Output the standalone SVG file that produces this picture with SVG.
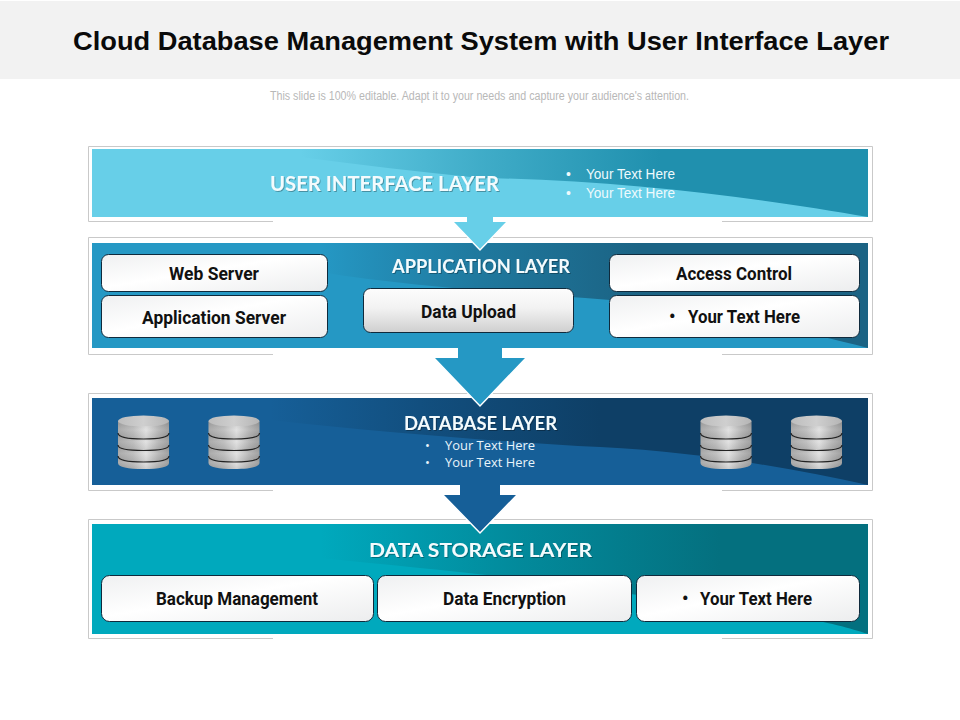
<svg xmlns="http://www.w3.org/2000/svg" width="960" height="720" viewBox="0 0 960 720">
<style>
.frame{fill:none;stroke:#c9c9c9;stroke-width:1}
.box{fill:url(#boxg);stroke:#0f2a3c;stroke-width:1}
.t{font-family:"Roboto","Liberation Sans",sans-serif;font-weight:700;font-size:18px;fill:#111}
.h{font-family:"Lato","Liberation Sans",sans-serif;font-weight:700;fill:#f4fbfd;filter:url(#ts)}
.b{font-family:"Liberation Sans",sans-serif;font-size:14px;fill:#eefafd}
.d{font-family:"Open Sans",sans-serif;font-size:13px;fill:#e8f4fb}
.o{fill:none;stroke:#fff;stroke-width:1.500}
</style>
<defs>
<linearGradient id="boxg" x1="0" y1="0" x2="1" y2="1"><stop offset="0" stop-color="#eff0f1"/><stop offset=".45" stop-color="#fff"/><stop offset="1" stop-color="#ecedee"/></linearGradient>
<linearGradient id="upg" x1="0" y1="0" x2="0" y2="1"><stop offset="0" stop-color="#fdfdfd"/><stop offset=".45" stop-color="#f2f2f2"/><stop offset="1" stop-color="#cfcfcf"/></linearGradient>
<linearGradient id="g1" gradientUnits="userSpaceOnUse" x1="300" y1="0" x2="660" y2="0"><stop offset="0" stop-color="#2090ae" stop-opacity="0"/><stop offset=".5" stop-color="#2090ae" stop-opacity=".55"/><stop offset="1" stop-color="#2090ae"/></linearGradient>
<linearGradient id="g2" gradientUnits="userSpaceOnUse" x1="320" y1="0" x2="640" y2="0"><stop offset="0" stop-color="#1b6384" stop-opacity="0"/><stop offset=".5" stop-color="#1b6384" stop-opacity=".6"/><stop offset="1" stop-color="#1b6384"/></linearGradient>
<linearGradient id="g3" gradientUnits="userSpaceOnUse" x1="270" y1="0" x2="600" y2="0"><stop offset="0" stop-color="#0e3f66" stop-opacity="0"/><stop offset=".5" stop-color="#0e3f66" stop-opacity=".55"/><stop offset="1" stop-color="#0e3f66"/></linearGradient>
<linearGradient id="g4" gradientUnits="userSpaceOnUse" x1="320" y1="0" x2="720" y2="0"><stop offset="0" stop-color="#04707f" stop-opacity="0"/><stop offset=".5" stop-color="#04707f" stop-opacity=".55"/><stop offset="1" stop-color="#04707f"/></linearGradient>
<linearGradient id="metal" x1="0" y1="0" x2="1" y2="0"><stop offset="0" stop-color="#a0a0a0"/><stop offset=".3" stop-color="#b8b8b8"/><stop offset=".55" stop-color="#dedede"/><stop offset=".8" stop-color="#b0b0b0"/><stop offset="1" stop-color="#959595"/></linearGradient>
<linearGradient id="top" x1="0" y1="0" x2="1" y2="0"><stop offset="0" stop-color="#bdbdbd"/><stop offset=".5" stop-color="#cfcfcf"/><stop offset="1" stop-color="#b5b5b5"/></linearGradient>
<linearGradient id="metalv" x1="0" y1="0" x2="0" y2="1"><stop offset="0" stop-color="#555" stop-opacity=".2"/><stop offset=".5" stop-color="#fff" stop-opacity=".12"/><stop offset="1" stop-color="#555" stop-opacity=".12"/></linearGradient>
<filter id="ts" x="-5%" y="-30%" width="110%" height="160%"><feDropShadow dx="1" dy="1" stdDeviation=".6" flood-color="#000" flood-opacity=".3"/></filter>
<g id="cyl">
<path d="M0,6 V48 C0,52 10,54 25.500,54 C41,54 51,52 51,48 V6 Z" fill="url(#metal)"/>
<path d="M0,6 C0,10 10,12 25.500,12 C41,12 51,10 51,6 V18 C51,22 41,24 25.500,24 C10,24 0,22 0,18 Z" fill="url(#metalv)"/>
<path d="M0,18 C0,22 10,24 25.500,24 C41,24 51,22 51,18 V30 C51,34 41,35.500 25.500,35.500 C10,35.500 0,34 0,30 Z" fill="url(#metalv)"/>
<path d="M0,30 C0,34 10,35.500 25.500,35.500 C41,35.500 51,34 51,30 V41 C51,45 41,47 25.500,47 C10,47 0,45 0,41 Z" fill="url(#metalv)"/>
<path d="M0,41 C0,45 10,47 25.500,47 C41,47 51,45 51,41 V48 C51,52 41,54 25.500,54 C10,54 0,52 0,48 Z" fill="url(#metalv)"/>
<path d="M0,18 C0,22 10,24 25.500,24 C41,24 51,22 51,18 M0,30 C0,34 10,35.500 25.500,35.500 C41,35.500 51,34 51,30 M0,41 C0,45 10,47 25.500,47 C41,47 51,45 51,41" fill="none" stroke="#222" stroke-width="1.200"/>
<ellipse cx="25.500" cy="6" rx="25.500" ry="5.500" fill="url(#top)"/>
</g>
</defs>

<rect width="960" height="720" fill="#fff"/>
<g id="header">
<rect x="0" y="1" width="960" height="78" fill="#f2f2f2"/>
<text x="73" y="50" font-family="'Liberation Sans',sans-serif" font-weight="700" font-size="26" fill="#0a0a0a" textLength="816" lengthAdjust="spacingAndGlyphs">Cloud Database Management System with User Interface Layer</text>
<text x="270" y="100" font-family="'Liberation Sans',sans-serif" font-size="12" fill="#b8b8b8" textLength="419" lengthAdjust="spacingAndGlyphs">This slide is 100% editable. Adapt it to your needs and capture your audience's attention.</text>
</g>

<g id="user-interface-layer">
<path class="frame" d="M273,221.500 H88.500 V146.500 H872.500 V221.500 H722"/>
<rect x="92" y="149" width="776" height="68" fill="#67cfe8"/>
<path d="M300,149 H868 V217 C760,198 620,180 480,178 C420,172 360,165 300,157 Z" fill="url(#g1)"/>
<text class="h" x="270" y="191" font-size="20" textLength="229" lengthAdjust="spacingAndGlyphs">USER INTERFACE LAYER</text>
<text class="b" y="179"><tspan x="566">•</tspan><tspan x="586" textLength="89" lengthAdjust="spacingAndGlyphs">Your Text Here</tspan></text>
<text class="b" y="198"><tspan x="566">•</tspan><tspan x="586" textLength="89" lengthAdjust="spacingAndGlyphs">Your Text Here</tspan></text>
</g>

<g id="application-layer">
<path class="frame" d="M273,354.500 H88.500 V237.500 H872.500 V354.500 H722"/>
<rect x="92" y="243" width="776" height="105" fill="#2598c4"/>
<path d="M320,243 H868 V348 C790,328 690,306 610,300 C520,293 420,288 320,272 Z" fill="url(#g2)"/>
<text class="h" x="392" y="273" font-size="18" textLength="178" lengthAdjust="spacingAndGlyphs">APPLICATION LAYER</text>
</g>
<g id="web-server"><rect class="box" x="101.500" y="254.500" width="226" height="37" rx="7"/><text class="t" x="169" y="280" textLength="90" lengthAdjust="spacingAndGlyphs">Web Server</text></g>
<g id="application-server"><rect class="box" x="101.500" y="295.500" width="226" height="42" rx="7"/><text class="t" x="142" y="324" textLength="144" lengthAdjust="spacingAndGlyphs">Application Server</text></g>
<g id="data-upload"><rect x="363.500" y="288.500" width="210" height="44" rx="7" fill="url(#upg)" stroke="#0f2a3c"/><text class="t" x="421" y="318" textLength="95" lengthAdjust="spacingAndGlyphs">Data Upload</text></g>
<g id="access-control"><rect class="box" x="609.500" y="254.500" width="250" height="37" rx="7"/><text class="t" x="676" y="280" textLength="116" lengthAdjust="spacingAndGlyphs">Access Control</text></g>
<g id="app-your-text"><rect class="box" x="609.500" y="295.500" width="250" height="42" rx="7"/><text class="t" y="323"><tspan x="669">•</tspan><tspan x="688" textLength="112" lengthAdjust="spacingAndGlyphs">Your Text Here</tspan></text></g>

<g id="database-layer">
<path class="frame" d="M273,490.500 H88.500 V393.500 H872.500 V490.500 H722"/>
<rect x="92" y="398" width="776" height="87" fill="#165f98"/>
<path d="M270,398 H868 V485 C790,468 700,452 600,447 C500,442 380,432 270,420 Z" fill="url(#g3)"/>
<text class="h" x="404" y="430" font-size="18" textLength="153" lengthAdjust="spacingAndGlyphs">DATABASE LAYER</text>
<text class="d" y="450"><tspan x="425">•</tspan><tspan x="445" textLength="90" lengthAdjust="spacingAndGlyphs">Your Text Here</tspan></text>
<text class="d" y="467"><tspan x="425">•</tspan><tspan x="445" textLength="90" lengthAdjust="spacingAndGlyphs">Your Text Here</tspan></text>
</g>
<g id="db-1"><use href="#cyl" x="118" y="415"/></g>
<g id="db-2"><use href="#cyl" x="208.500" y="415"/></g>
<g id="db-3"><use href="#cyl" x="700.500" y="415"/></g>
<g id="db-4"><use href="#cyl" x="791" y="415"/></g>

<g id="data-storage-layer">
<path class="frame" d="M273,638.500 H88.500 V519.500 H872.500 V638.500 H722"/>
<rect x="92" y="524" width="776" height="110" fill="#00a9bd"/>
<path d="M320,524 H868 V634 C850,628 830,623 790,615 L600,590 C500,575 420,568 320,558 Z" fill="url(#g4)"/>
<text class="h" x="369" y="557" font-size="19" textLength="223" lengthAdjust="spacingAndGlyphs">DATA STORAGE LAYER</text>
</g>
<g id="backup-management"><rect class="box" x="101.500" y="575.500" width="272" height="46" rx="8"/><text class="t" x="156" y="605" textLength="162" lengthAdjust="spacingAndGlyphs">Backup Management</text></g>
<g id="data-encryption"><rect class="box" x="377.500" y="575.500" width="254" height="46" rx="8"/><text class="t" x="443" y="605" textLength="123" lengthAdjust="spacingAndGlyphs">Data Encryption</text></g>
<g id="storage-your-text"><rect class="box" x="636.500" y="575.500" width="223" height="46" rx="8"/><text class="t" y="605"><tspan x="682">•</tspan><tspan x="700" textLength="112" lengthAdjust="spacingAndGlyphs">Your Text Here</tspan></text></g>

<g id="connectors">
<path d="M467,217 H493 V222 H507 L480,250 L453,222 H467 Z" fill="#67cfe8"/>
<path class="o" d="M453,222 L480,250 L507,222"/>
<path d="M458,348 H502 V358 H526 L480,406 L434,358 H458 Z" fill="#2598c4"/>
<path class="o" d="M434,358 L480,406 L526,358"/>
<path d="M460,485 H500 V495 H517 L480,533 L443,495 H460 Z" fill="#165f98"/>
<path class="o" d="M443,495 L480,533 L517,495"/>
</g>
</svg>
